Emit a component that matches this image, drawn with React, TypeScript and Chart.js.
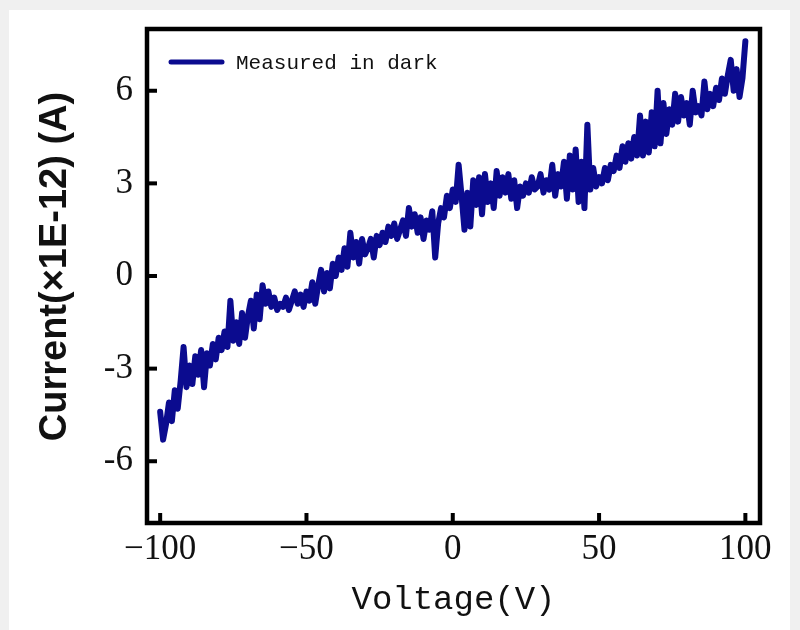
import React, { useEffect, useRef } from "react";
import { Chart, registerables } from "chart.js";

Chart.register(...registerables);

const seriesLabel = "Measured in dark";
const xTitle = "Voltage(V)";
const yTitle = "\u2002Current(×1E-12) (A)";
const xTicks = [-100, -50, 0, 50, 100];
const yTicks = [-6, -3, 0, 3, 6];

const voltage = [
  -100, -99, -98, -97, -96, -95, -94, -93, -92, -91,
  -90, -89, -88, -87, -86, -85, -84, -83, -82, -81,
  -80, -79, -78, -77, -76, -75, -74, -73, -72, -71,
  -70, -69, -68, -67, -66, -65, -64, -63, -62, -61,
  -60, -59, -58, -57, -56, -55, -54, -53, -52, -51,
  -50, -49, -48, -47, -46, -45, -44, -43, -42, -41,
  -40, -39, -38, -37, -36, -35, -34, -33, -32, -31,
  -30, -29, -28, -27, -26, -25, -24, -23, -22, -21,
  -20, -19, -18, -17, -16, -15, -14, -13, -12, -11,
  -10, -9, -8, -7, -6, -5, -4, -3, -2, -1,
  0, 1, 2, 3, 4, 5, 6, 7, 8, 9,
  10, 11, 12, 13, 14, 15, 16, 17, 18, 19,
  20, 21, 22, 23, 24, 25, 26, 27, 28, 29,
  30, 31, 32, 33, 34, 35, 36, 37, 38, 39,
  40, 41, 42, 43, 44, 45, 46, 47, 48, 49,
  50, 51, 52, 53, 54, 55, 56, 57, 58, 59,
  60, 61, 62, 63, 64, 65, 66, 67, 68, 69,
  70, 71, 72, 73, 74, 75, 76, 77, 78, 79,
  80, 81, 82, 83, 84, 85, 86, 87, 88, 89,
  90, 91, 92, 93, 94, 95, 96, 97, 98, 99,
  100,
];

const current = [
  -4.4, -5.3, -4.8, -4.1, -4.7, -3.7, -4.3, -3.4, -2.3, -3.6,
  -2.9, -3.5, -2.6, -3.2, -2.4, -3.6, -2.5, -2.9, -2.2, -2.7,
  -2.0, -2.4, -1.8, -2.3, -0.8, -2.1, -1.5, -2.2, -1.2, -2.0,
  -1.3, -0.8, -1.7, -0.6, -1.4, -0.3, -0.9, -0.5, -1.0, -0.7,
  -1.1, -0.9, -1.0, -0.7, -1.1, -0.8, -0.5, -0.9, -0.6, -1.0,
  -0.5, -0.8, -0.2, -0.9, -0.3, 0.2, -0.5, 0.1, -0.4, 0.4,
  0.0, 0.6, 0.2, 0.9, 0.3, 1.4, 0.6, 1.1, 0.4, 1.2,
  0.7, 0.9, 1.2, 0.6, 1.3, 1.0, 1.4, 1.1, 1.6, 1.3,
  1.7, 1.2, 1.5, 1.8, 1.3, 2.2, 1.6, 2.0, 1.4, 1.9,
  1.2, 1.8, 1.5, 2.1, 0.6, 1.7, 2.2, 1.9, 2.6, 2.2,
  2.8, 2.4, 3.6, 2.6, 1.5, 2.7, 1.6, 3.1, 2.3, 3.2,
  2.0, 3.3, 2.4, 3.0, 2.2, 3.4, 2.6, 3.2, 2.7, 3.3,
  2.5, 3.1, 2.2, 2.9, 2.6, 3.0, 2.7, 3.2, 2.8, 2.9,
  3.3, 2.7, 3.1, 2.8, 3.6, 2.6, 3.3, 2.9, 3.7, 2.5,
  3.9, 2.8, 4.1, 2.4, 3.7, 2.2, 4.9, 2.8, 3.5, 2.9,
  3.2, 3.0, 3.5, 3.1, 3.6, 3.4, 3.9, 3.5, 4.2, 3.7,
  4.3, 3.8, 4.5, 3.9, 5.2, 3.9, 5.0, 4.0, 5.3, 4.2,
  6.0, 4.3, 5.6, 4.6, 5.4, 4.9, 5.9, 5.0, 5.8, 5.2,
  5.6, 4.9, 6.0, 5.3, 5.5, 5.2, 6.3, 5.4, 5.9, 5.5,
  6.1, 5.7, 6.4, 5.9, 6.5, 7.0, 6.0, 6.7, 5.8, 6.4,
  7.6,
];

const LINE_COLOR = "#0b0b8f";

const framePlugin = {
  id: "frameAndTicks",
  afterDraw(chart: any) {
    const { ctx, chartArea, scales } = chart;
    const { left, top, right, bottom } = chartArea;
    ctx.save();
    ctx.strokeStyle = "#000";
    ctx.lineWidth = 4.5;
    ctx.strokeRect(left, top, right - left, bottom - top);
    ctx.fillStyle = "#000";
    const tickLen = 10;
    const tickW = 4;
    scales.x.ticks.forEach((t: any) => {
      const px = scales.x.getPixelForValue(t.value);
      ctx.fillRect(px - tickW / 2, bottom - tickLen, tickW, tickLen);
    });
    scales.y.ticks.forEach((t: any) => {
      const py = scales.y.getPixelForValue(t.value);
      ctx.fillRect(left, py - tickW / 2, tickLen, tickW);
    });
    const ds = chart.data.datasets[0];
    const ly = top + 33;
    ctx.strokeStyle = ds.borderColor;
    ctx.lineWidth = 5;
    ctx.lineCap = "round";
    ctx.beginPath();
    ctx.moveTo(left + 24, ly);
    ctx.lineTo(left + 75, ly);
    ctx.stroke();
    ctx.fillStyle = "#111";
    ctx.font = '21px "Liberation Mono"';
    ctx.textBaseline = "middle";
    ctx.textAlign = "left";
    ctx.fillText(ds.label, left + 89, ly + 1);
    ctx.restore();
  },
};

const zeroPad = (s: any) => {
  s.paddingTop = 0;
  s.paddingBottom = 0;
  s.paddingLeft = 0;
  s.paddingRight = 0;
};

export default function App() {
  const ref = useRef<HTMLCanvasElement | null>(null);

  useEffect(() => {
    if (!ref.current) return;
    const chart = new Chart(ref.current, {
      type: "line",
      data: {
        datasets: [
          {
            label: seriesLabel,
            data: voltage.map((v, i) => ({ x: v, y: current[i] })),
            borderColor: LINE_COLOR,
            backgroundColor: LINE_COLOR,
            borderWidth: 6,
            pointRadius: 0,
            tension: 0,
            borderJoinStyle: "round",
            borderCapStyle: "round",
          },
        ],
      },
      options: {
        responsive: false,
        animation: false,
        layout: { autoPadding: false, padding: { top: 29, right: 40, left: 0, bottom: 0 } },
        plugins: {
          legend: { display: false },
          tooltip: { enabled: false },
        },
        scales: {
          x: {
            type: "linear",
            min: -104.5,
            max: 105,
            afterBuildTicks: (s: any) => {
              s.ticks = xTicks.map((v) => ({ value: v }));
            },
            afterFit: (s: any) => {
              s.height = 107;
              zeroPad(s);
            },
            grid: { display: false, drawTicks: false },
            border: { display: false },
            ticks: {
              color: "#111",
              padding: 6,
              maxRotation: 0,
              font: { family: '"Liberation Serif"', size: 35 },
              callback: (v: any) => (Number(v) < 0 ? "\u2212" + Math.abs(Number(v)) : String(v)),
            },
            title: {
              display: true,
              text: xTitle,
              color: "#111",
              font: { family: '"Liberation Mono"', size: 34 },
              padding: { top: 0, bottom: 10 },
            },
          },
          y: {
            type: "linear",
            min: -8,
            max: 8,
            afterBuildTicks: (s: any) => {
              s.ticks = yTicks.map((v) => ({ value: v }));
            },
            afterFit: (s: any) => {
              s.width = 147;
              zeroPad(s);
            },
            grid: { display: false, drawTicks: false },
            border: { display: false },
            ticks: {
              color: "#111",
              padding: 14,
              font: { family: '"Liberation Serif"', size: 35 },
              callback: (v: any) => String(v),
            },
            title: {
              display: true,
              text: yTitle,
              color: "#111",
              font: { family: '"Liberation Sans"', size: 38, weight: "bold" },
              padding: { top: 33, bottom: 0 },
            },
          },
        },
      },
      plugins: [framePlugin],
    } as any);
    return () => chart.destroy();
  }, []);

  return (
    <div style={{ position: "fixed", left: 0, top: 0, width: 800, height: 630, background: "#f0f0f0" }}>
      <div style={{ position: "absolute", left: 9, top: 10, width: 781, height: 620, background: "#ffffff" }} />
      <canvas ref={ref} width={800} height={630} style={{ position: "absolute", left: 0, top: 0, width: 800, height: 630 }} />
    </div>
  );
}
